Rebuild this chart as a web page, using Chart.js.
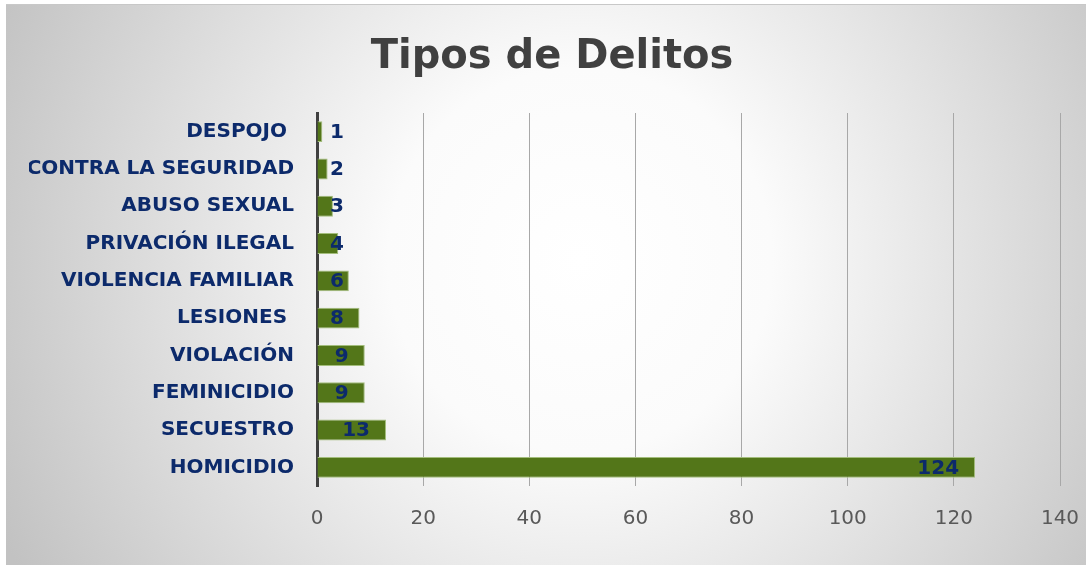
<!DOCTYPE html>
<html>
<head>
<meta charset="utf-8">
<style>
  html, body { margin: 0; padding: 0; background: #ffffff; }
  #wrap { position: relative; width: 1086px; height: 565px; }
</style>
<script src="https://cdn.jsdelivr.net/npm/chart.js@4/dist/chart.umd.min.js"></script>
</head>
<body>
<div id="wrap"><canvas id="c" width="1086" height="565"></canvas></div>
<script>
const categories = ["DESPOJO ", "CONTRA LA SEGURIDAD", "ABUSO SEXUAL", "PRIVACIÓN ILEGAL", "VIOLENCIA FAMILIAR", "LESIONES ", "VIOLACIÓN", "FEMINICIDIO", "SECUESTRO", "HOMICIDIO"];
const delitos = [1, 2, 3, 4, 6, 8, 9, 9, 13, 124];
const xTicks = [0, 20, 40, 60, 80, 100, 120, 140];
const titleText = "Tipos de Delitos";

const bgPlugin = {
  id: 'bg',
  beforeDraw(chart) {
    const ctx = chart.ctx;
    const W = chart.width, H = chart.height;
    ctx.save();
    ctx.fillStyle = '#ffffff';
    ctx.fillRect(0, 0, W, H);
    const g = ctx.createRadialGradient(580, 260, 0, 580, 260, 640);
    g.addColorStop(0, '#ffffff');
    g.addColorStop(0.3, '#fbfbfb');
    g.addColorStop(1, '#c2c2c2');
    ctx.fillStyle = g;
    ctx.fillRect(6, 5, W - 6, H - 5);
    ctx.fillStyle = '#c8c8c8';
    ctx.fillRect(6, 4, W - 6, 1);
    ctx.restore();
  }
};

const labelPlugin = {
  id: 'vlabels',
  afterDatasetsDraw(chart) {
    const ctx = chart.ctx;
    const meta = chart.getDatasetMeta(0);
    const xs = chart.scales.x;
    const base = xs.getPixelForValue(0);
    ctx.save();
    ctx.font = 'bold 20px "DejaVu Sans"';
    ctx.fillStyle = '#0c2a6b';
    ctx.textAlign = 'right';
    ctx.textBaseline = 'middle';
    meta.data.forEach((bar, i) => {
      const v = chart.data.datasets[0].data[i];
      const end = xs.getPixelForValue(v);
      const right = Math.max(end - 16, base + 27);
      ctx.fillText(String(v), right, bar.y + 1);
    });
    ctx.restore();
  }
};

new Chart(document.getElementById('c'), {
  type: 'bar',
  data: {
    labels: categories,
    datasets: [{
      data: delitos,
      backgroundColor: '#537619',
      borderColor: '#a3bd7c',
      borderWidth: 1,
      borderSkipped: 'start',
      barPercentage: 0.56,
      categoryPercentage: 1
    }]
  },
  options: {
    indexAxis: 'y',
    responsive: false,
    animation: false,
    devicePixelRatio: 1,
    layout: { padding: { left: 29, right: 11, top: 0, bottom: 0 } },
    plugins: {
      legend: { display: false },
      tooltip: { enabled: false },
      title: {
        display: true,
        text: titleText,
        color: '#404040',
        font: { family: '"DejaVu Sans"', size: 40, weight: 'bold', lineHeight: 1.2 },
        padding: { top: 34, bottom: 31 }
      }
    },
    scales: {
      x: {
        min: 0,
        max: 140,
        afterBuildTicks(scale) { scale.ticks = xTicks.map(v => ({ value: v })); },
        afterFit(scale) { scale.height = 79; scale.paddingRight = 26; scale.paddingLeft = 0; },
        grid: { color: '#a8a8a8', lineWidth: 1, drawTicks: false },
        border: { display: false },
        ticks: {
          color: '#595959',
          font: { family: '"DejaVu Sans"', size: 20 },
          padding: 21
        }
      },
      y: {
        afterFit(scale) { scale.width = 288; },
        grid: { display: false, drawTicks: false },
        border: { display: true, color: '#404040', width: 3 },
        ticks: {
          color: '#0c2a6b',
          font: { family: '"DejaVu Sans"', size: 20, weight: 'bold' },
          padding: 23
        }
      }
    }
  },
  plugins: [bgPlugin, labelPlugin]
});
</script>
</body>
</html>
